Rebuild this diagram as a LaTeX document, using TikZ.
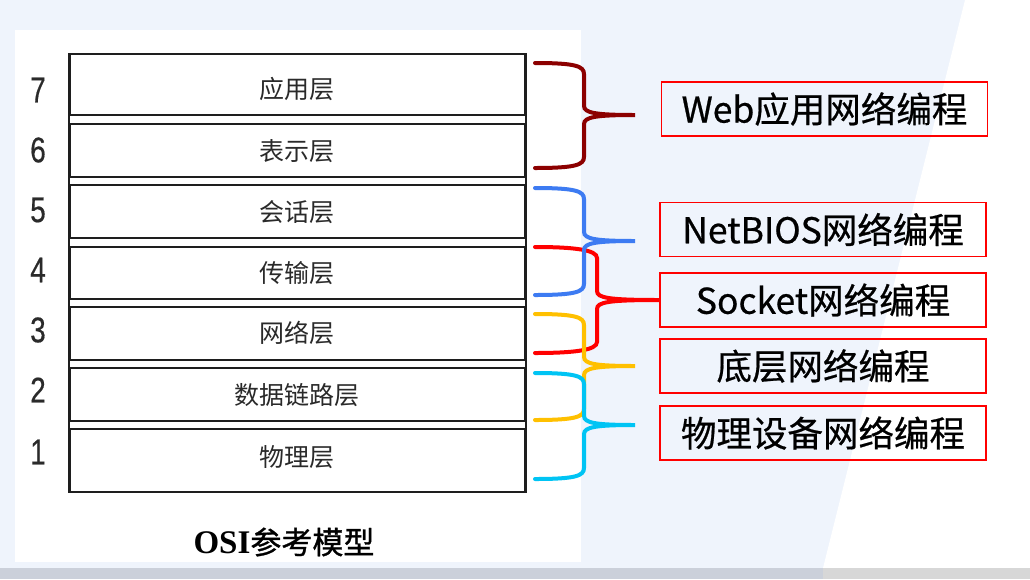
\documentclass[tikz,border=0pt]{standalone}
\usepackage{fontspec}
\usepackage{graphicx}
\setmainfont{Liberation Sans}
\newfontfamily\cjk{Noto Sans CJK SC}
\newfontfamily\cjkbox{Noto Sans CJK SC}[FakeBold=0.6]
\newfontfamily\numfont{Liberation Sans}[FakeBold=0.5]
\newfontfamily\serifb{Liberation Serif}
\newfontfamily\cjkbold{Noto Sans CJK SC}[FakeBold=1.0]
\definecolor{bgblue}{HTML}{EFF4FC}
\definecolor{linegray}{HTML}{1E1E1E}
\definecolor{txtgray}{HTML}{2A2A2A}
\definecolor{bdarkred}{HTML}{8C0000}
\definecolor{bblue}{HTML}{3D7BF2}
\definecolor{bred}{HTML}{FF0000}
\definecolor{byellow}{HTML}{FFC000}
\definecolor{bcyan}{HTML}{00C4F4}
\definecolor{barl}{HTML}{CBD0DA}
\definecolor{barr}{HTML}{D7D7D7}
% color, ytop, ybottom, xspine, tip coordinate, ymid
\newcommand\drawbrace[6]{%
  \draw[bracestyle,#1] (535,#2) .. controls (575,#2) and (#4,{#2+3}) .. (#4,{#2+11})
    -- (#4,{#6-9}) .. controls (#4,{#6-2}) and ({#4+12},#6) .. (#5)
    .. controls ({#4+12},#6) and (#4,{#6+2}) .. (#4,{#6+9})
    -- (#4,{#3-11}) .. controls (#4,{#3-3}) and (575,#3) .. (535,#3);}
\begin{document}
\begin{tikzpicture}[x=1pt,y=-1pt,
  layer/.style={draw=linegray,line width=2pt,minimum width=455pt,inner sep=0pt},
  laytext/.style={font=\cjk\fontsize{25}{25}\selectfont,text=txtgray,inner sep=0pt},
  num/.style={font=\numfont\fontsize{31}{31}\selectfont,text=txtgray,inner sep=0pt},
  tbox/.style={draw=bred,line width=1.3pt,minimum width=326pt,minimum height=54pt,
    font=\cjkbox\fontsize{35.5}{35.5}\selectfont,inner sep=0pt},
  bracestyle/.style={line width=4pt,line cap=round}]
\useasboundingbox (0,0) rectangle (1030,579);
% background
\fill[bgblue] (0,0) rectangle (1030,579);
\fill[white] (965,0) -- (1030,0) -- (1030,568) -- (823,568) -- cycle;
\fill[barl] (0,568) rectangle (823,579);
\fill[barr] (823,568) rectangle (1030,579);
\fill[white] (15,30) rectangle (581,562);
% layers
\node[layer,minimum height=61pt] (L7) at (297.5,84.5) {};
\node[layer,minimum height=53pt] (L6) at (297.5,150.5) {};
\node[layer,minimum height=53pt] (L5) at (297.5,211.5) {};
\node[layer,minimum height=52pt] (L4) at (297.5,272.5) {};
\node[layer,minimum height=53pt] (L3) at (297.5,333.5) {};
\node[layer,minimum height=53pt] (L2) at (297.5,394.5) {};
\node[layer,minimum height=63pt] (L1) at (297.5,460.5) {};
\draw[linegray,line width=2pt] (L7.north west) -- (L1.south west);
\draw[linegray,line width=2pt] (L7.north east) -- (L1.south east);
% layer texts
\node[laytext] (T7) at (297,89) {应用层};
\node[laytext] (T6) at (297,151) {表示层};
\node[laytext] (T5) at (297,212) {会话层};
\node[laytext] (T4) at (297,273) {传输层};
\node[laytext] (T3) at (297,333) {网络层};
\node[laytext] (T2) at (297,395) {数据链路层};
\node[laytext] (T1) at (297,457) {物理层};
% numbers
\node[num] (N7) at (38,90) {\scalebox{0.9}[1.15]{7}};
\node[num] (N6) at (38,150) {\scalebox{0.9}[1.15]{6}};
\node[num] (N5) at (38,210) {\scalebox{0.9}[1.15]{5}};
\node[num] (N4) at (38,270) {\scalebox{0.9}[1.15]{4}};
\node[num] (N3) at (38,330) {\scalebox{0.9}[1.15]{3}};
\node[num] (N2) at (38,390) {\scalebox{0.9}[1.15]{2}};
\node[num] (N1) at (38,452) {\scalebox{0.9}[1.15]{1}};
% caption
\node[inner sep=0pt] (osi) at (284,542)
  {{\serifb\bfseries\fontsize{33}{33}\selectfont OSI}{\cjkbold\fontsize{31}{31}\selectfont 参考模型}};
% right boxes
\node[tbox] (B1) at (824.5,109) {Web应用网络编程};
\node[tbox] (B2) at (823,229.5) {NetBIOS网络编程};
\node[tbox] (B3) at (823,300) {Socket网络编程};
\node[tbox] (B4) at (823,366) {底层网络编程};
\node[tbox] (B5) at (823,433) {物理设备网络编程};
% brace tips
\coordinate (P1) at (635,115);
\coordinate (P2) at (635,241);
\coordinate (P4) at (635,366);
\coordinate (P5) at (635,425);
% braces
\drawbrace{bdarkred}{63}{168}{584}{P1}{115}
\drawbrace{bred}{247}{353}{597}{B3.west}{300}
\drawbrace{bblue}{188}{295}{584}{P2}{241}
\drawbrace{byellow}{314}{420}{584}{P4}{366}
\drawbrace{bcyan}{373}{479}{584}{P5}{425}
\end{tikzpicture}
\end{document}
